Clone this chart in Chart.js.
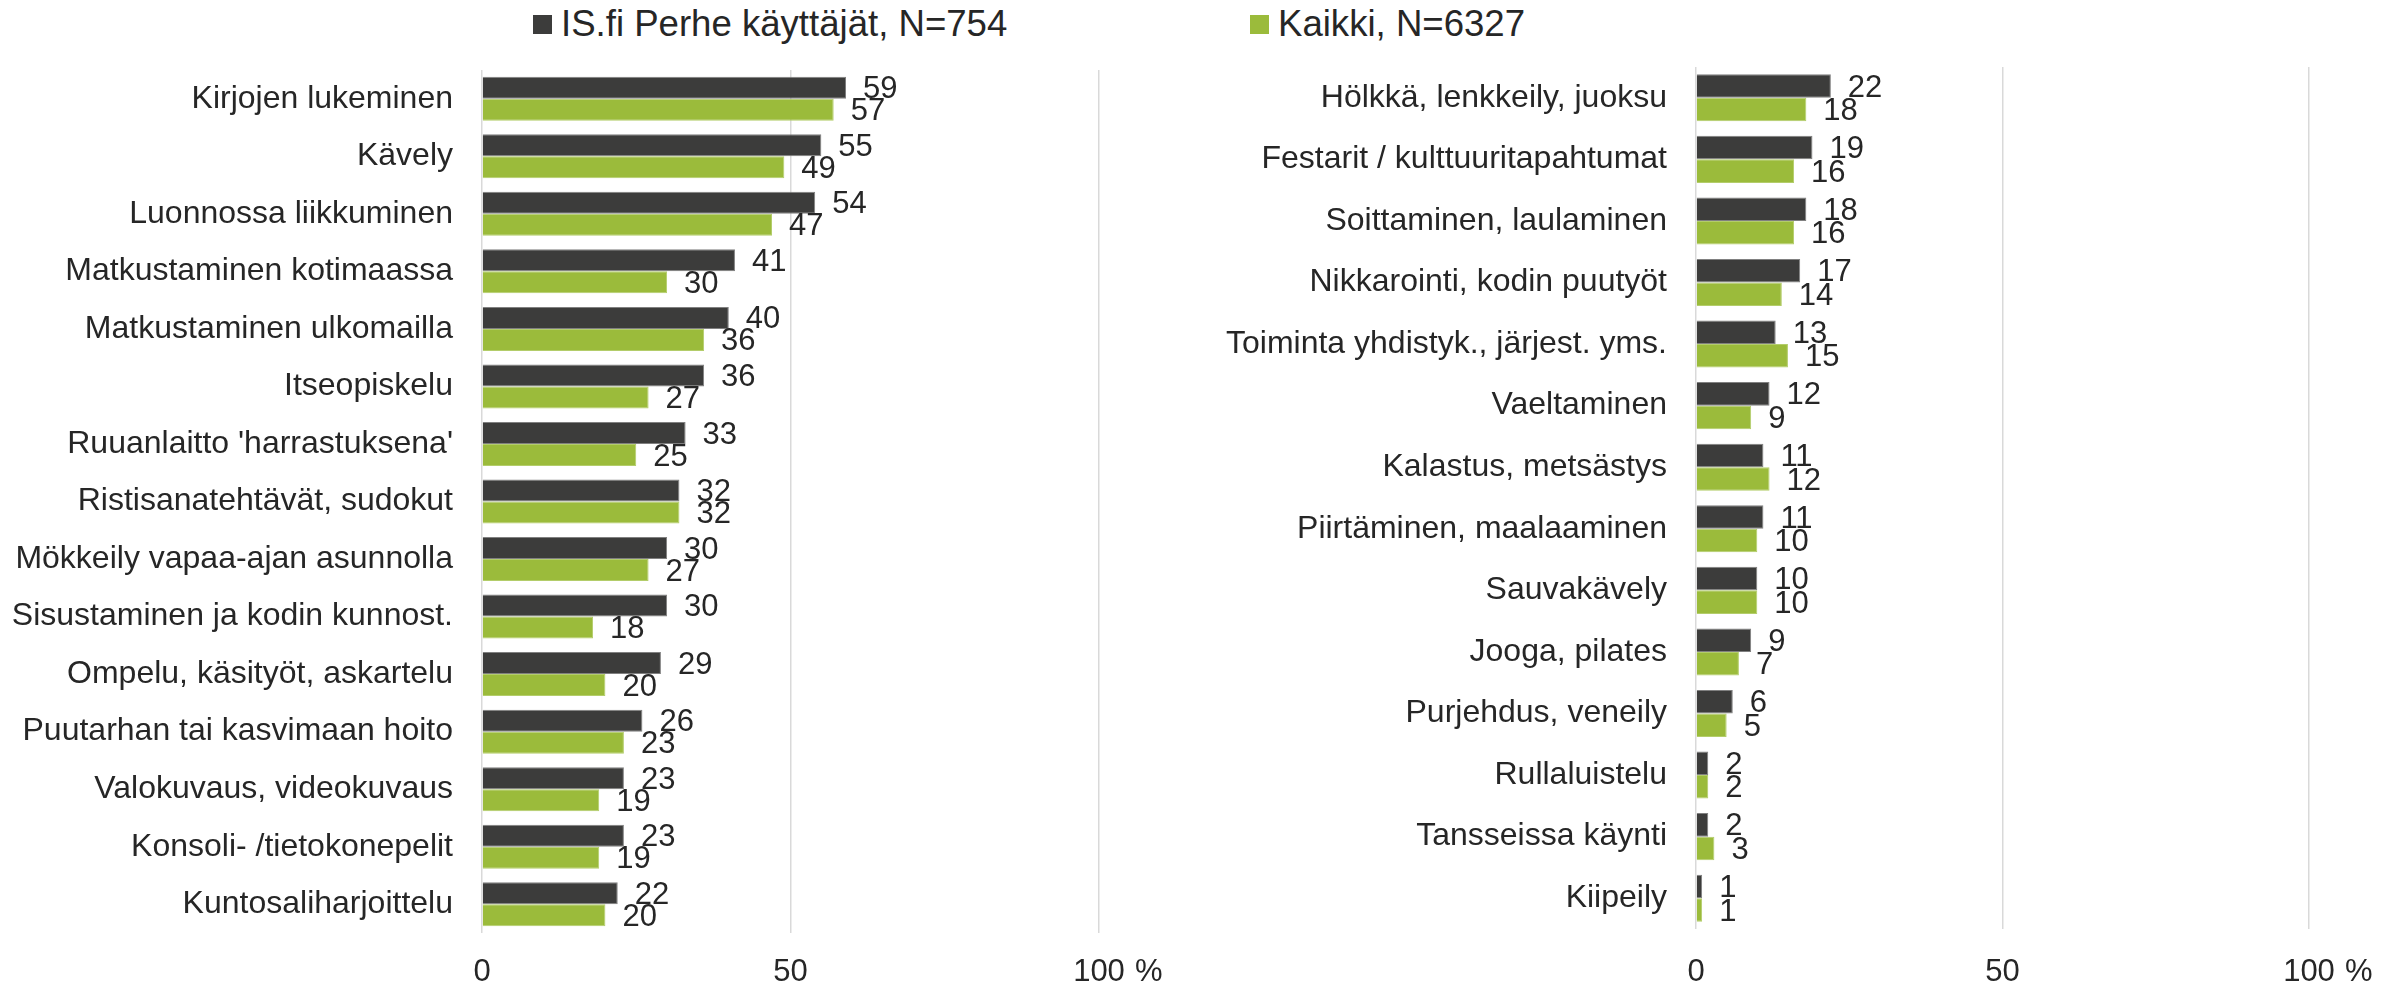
<!DOCTYPE html>
<html>
<head>
<meta charset="utf-8">
<script src="https://cdn.jsdelivr.net/npm/chart.js@4.4.1/dist/chart.umd.min.js"></script>
<style>
  html, body { margin: 0; padding: 0; background: #ffffff; }
  body { width: 2403px; height: 986px; position: relative; overflow: hidden; font-family: 'Liberation Sans', Arial, sans-serif; }
  canvas { position: absolute; top: 0; }
  #cLeft { left: 0; }
  #cRight { left: 1200px; }
  .leg { position: absolute; top: 0; height: 48px; display: flex; align-items: center; font-size: 36.6px; color: #262626; white-space: nowrap; }
  .leg .sw { width: 19px; height: 19px; margin-right: 9px; }
</style>
</head>
<body>
<div class="leg" id="leg1" style="left:533px"><span class="sw" id="sw1"></span><span id="lt1"></span></div>
<div class="leg" id="leg2" style="left:1250px"><span class="sw" id="sw2"></span><span id="lt2"></span></div>
<canvas id="cLeft" width="1200" height="986"></canvas>
<canvas id="cRight" width="1203" height="986"></canvas>
<script>
// ---- data ----
const seriesNames = ['IS.fi Perhe käyttäjät, N=754', 'Kaikki, N=6327'];
const seriesColors = ['#3c3c3b', '#9bbb3b'];
const seriesBorders = ['#808080', '#b3cd6a'];

const leftCategories = [
  'Kirjojen lukeminen', 'Kävely', 'Luonnossa liikkuminen', 'Matkustaminen kotimaassa',
  'Matkustaminen ulkomailla', 'Itseopiskelu', "Ruuanlaitto 'harrastuksena'",
  'Ristisanatehtävät, sudokut', 'Mökkeily vapaa-ajan asunnolla', 'Sisustaminen ja kodin kunnost.',
  'Ompelu, käsityöt, askartelu', 'Puutarhan tai kasvimaan hoito', 'Valokuvaus, videokuvaus',
  'Konsoli- /tietokonepelit', 'Kuntosaliharjoittelu'
];
const leftPerhe  = [59, 55, 54, 41, 40, 36, 33, 32, 30, 30, 29, 26, 23, 23, 22];
const leftKaikki = [57, 49, 47, 30, 36, 27, 25, 32, 27, 18, 20, 23, 19, 19, 20];

const rightCategories = [
  'Hölkkä, lenkkeily, juoksu', 'Festarit / kulttuuritapahtumat', 'Soittaminen, laulaminen',
  'Nikkarointi, kodin puutyöt', 'Toiminta yhdistyk., järjest. yms.', 'Vaeltaminen',
  'Kalastus, metsästys', 'Piirtäminen, maalaaminen', 'Sauvakävely', 'Jooga, pilates',
  'Purjehdus, veneily', 'Rullaluistelu', 'Tansseissa käynti', 'Kiipeily'
];
const rightPerhe  = [22, 19, 18, 17, 13, 12, 11, 11, 10, 9, 6, 2, 2, 1];
const rightKaikki = [18, 16, 16, 14, 15, 9, 12, 10, 10, 7, 5, 2, 3, 1];

const xTickValues = [0, 50, 100];
const xUnit = '%';

// ---- legend (HTML) ----
document.getElementById('sw1').style.background = seriesColors[0];
document.getElementById('sw2').style.background = seriesColors[1];
document.getElementById('lt1').textContent = seriesNames[0];
document.getElementById('lt2').textContent = seriesNames[1];

const FONT = "'Liberation Sans', Arial, sans-serif";
const TEXT = '#262626';

const valueLabels = {
  id: 'valueLabels',
  afterDatasetsDraw(chart) {
    const ctx = chart.ctx;
    ctx.save();
    ctx.font = '31px ' + FONT;
    ctx.fillStyle = TEXT;
    ctx.textAlign = 'left';
    ctx.textBaseline = 'middle';
    chart.data.datasets.forEach((ds, di) => {
      const meta = chart.getDatasetMeta(di);
      meta.data.forEach((bar, i) => {
        ctx.fillText(String(ds.data[i]), bar.x + 17, bar.y + 2);
      });
    });
    ctx.restore();
  }
};

const unitLabel = {
  id: 'unitLabel',
  afterDraw(chart) {
    const xs = chart.scales.x;
    const o = xs.options.ticks;
    const ctx = chart.ctx;
    ctx.save();
    ctx.font = o.font.size + 'px ' + FONT;
    ctx.fillStyle = TEXT;
    ctx.textAlign = 'left';
    ctx.textBaseline = 'middle';
    const y = xs.top + o.padding + o.font.size * 1.2 / 2;
    ctx.fillText(xUnit, xs.getPixelForValue(xTickValues[xTickValues.length - 1]) + 36, y);
    ctx.restore();
  }
};

function makeChart(id, cats, a, b, opts) {
  return new Chart(document.getElementById(id), {
    type: 'bar',
    data: {
      labels: cats,
      datasets: [
        { label: seriesNames[0], data: a, backgroundColor: seriesColors[0], borderColor: seriesBorders[0], borderWidth: 1 },
        { label: seriesNames[1], data: b, backgroundColor: seriesColors[1], borderColor: seriesBorders[1], borderWidth: 1 }
      ]
    },
    options: {
      indexAxis: 'y',
      responsive: false,
      animation: false,
      devicePixelRatio: 1,
      categoryPercentage: 0.765,
      barPercentage: 1.0,
      layout: { padding: { top: opts.top, right: opts.right, left: 0, bottom: 0 } },
      plugins: { legend: { display: false }, tooltip: { enabled: false } },
      scales: {
        x: {
          min: 0, max: 100,
          afterBuildTicks(s) { s.ticks = xTickValues.map(v => ({ value: v })); },
          afterFit(s) { s.height = opts.xh; },
          grid: { color: '#d9d9d9', lineWidth: 1.5, drawTicks: false },
          border: { display: false },
          ticks: { padding: opts.tp, font: { family: FONT, size: 31 }, color: TEXT, maxRotation: 0 }
        },
        y: {
          afterFit(s) { s.width = opts.yw; },
          grid: { display: false, drawTicks: false },
          border: { display: false },
          ticks: { padding: 29, font: { family: FONT, size: 32 }, color: TEXT, autoSkip: false }
        }
      }
    },
    plugins: [valueLabels, unitLabel]
  });
}

makeChart('cLeft', leftCategories, leftPerhe, leftKaikki, { top: 70, right: 101, xh: 53, yw: 482, tp: 21 });
makeChart('cRight', rightCategories, rightPerhe, rightKaikki, { top: 67, right: 94, xh: 57, yw: 496, tp: 25 });
</script>
</body>
</html>
